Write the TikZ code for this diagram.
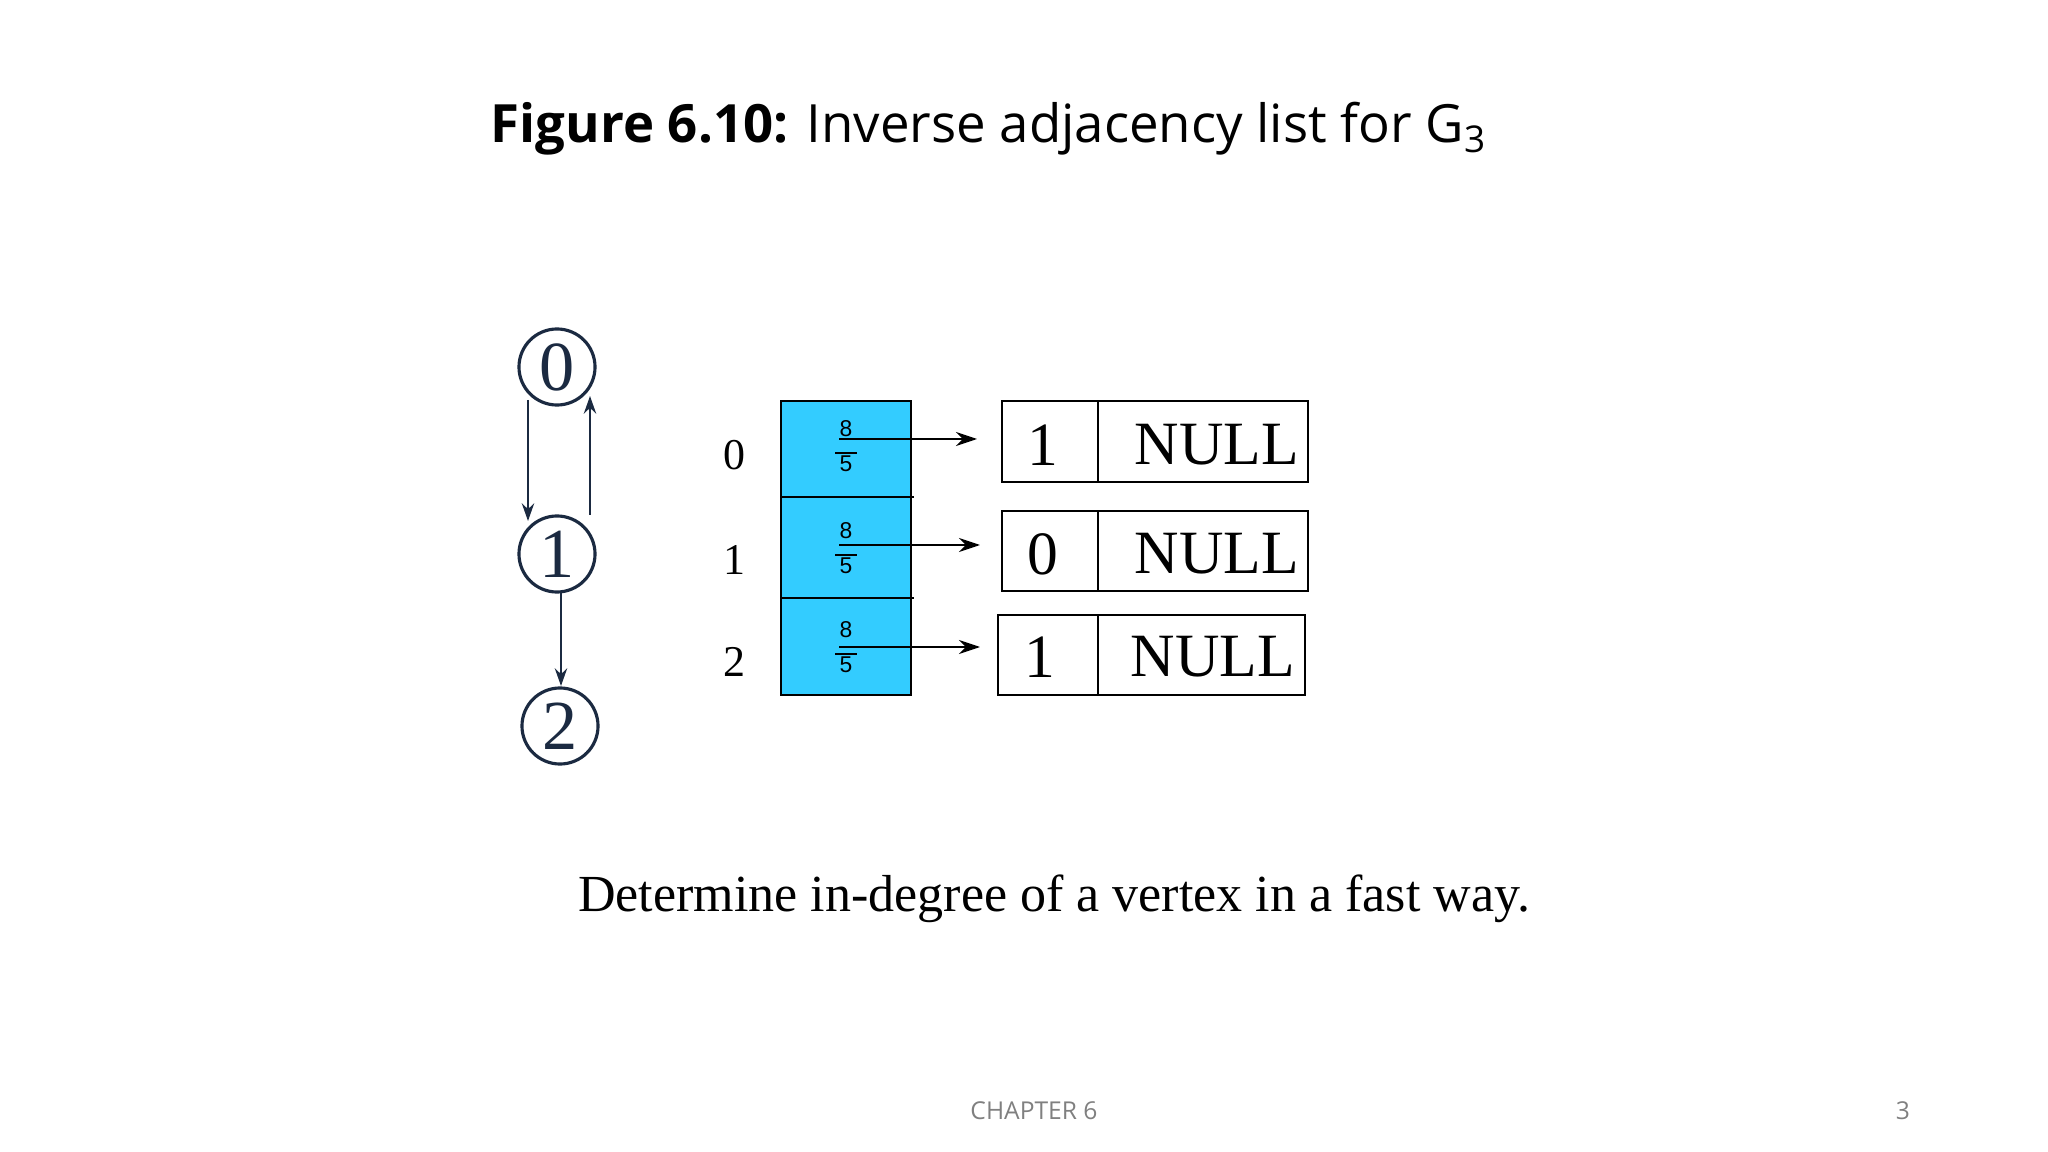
\documentclass[tikz,border=0pt]{standalone}
\usepackage{fontspec}
\setmainfont{Liberation Serif}
\newfontfamily\osans{Open Sans}
\newfontfamily\lsans{Liberation Sans}
\usetikzlibrary{arrows.meta}
\definecolor{navy}{HTML}{1B2A41}
\definecolor{cellblue}{HTML}{33CCFF}
\begin{document}
\begin{tikzpicture}[x=0.01cm,y=-0.01cm,
  vert/.style={circle,draw=navy,line width=0.9pt,minimum size=0.76cm,inner sep=0pt,font=\fontsize{20}{20}\selectfont,text=navy},
  garrow/.style={-{Stealth[length=5pt,width=3.5pt]},draw=navy,line width=0.6pt},
  parrow/.style={-{Stealth[length=6pt,width=4pt]},line width=0.6pt},
  idx/.style={font=\fontsize{12.5}{12.5}\selectfont},
  cell/.style={font=\fontsize{17.5}{17.5}\selectfont},
  frac/.style={font=\lsans\fontsize{6.5}{6.5}\selectfont,inner sep=0pt,align=center}]
\useasboundingbox (0,0) rectangle (2048,1152);
\node[anchor=base west,font=\osans\fontsize{15}{15}\selectfont,inner sep=0pt] (title) at (490,143)
  {\textbf{Figure 6.10:} Inverse adjacency list for G\textsubscript{3}};
% graph
\node[vert] (v0) at (557,367) {0};
\node[vert] (v1) at (557,554) {1};
\node[vert] (v2) at (560,726) {2};
\coordinate (a1) at (528,400); \coordinate (a2) at (528,521);
\coordinate (b1) at (590,515); \coordinate (b2) at (590,396);
\coordinate (c1) at (561,593); \coordinate (c2) at (561,686);
\draw[garrow] (a1) -- (a2);
\draw[garrow] (b1) -- (b2);
\draw[garrow] (c1) -- (c2);
% indices
\node[idx] (i0) at (734,455) {0};
\node[idx] (i1) at (734,560) {1};
\node[idx] (i2) at (734,662) {2};
% array
\fill[cellblue] (781,401) rectangle (911,695);
\draw[line width=0.7pt] (781,401) rectangle (911,695);
\draw[line width=0.7pt] (781,497) -- (914,497);
\draw[line width=0.7pt] (781,598) -- (914,598);
\foreach \y/\n in {446/f0,548/f1,647/f2}{
  \node[frac] (\n) at (846,\y) {8\\[-1.5pt]\rule{6pt}{0.5pt}\\[-1.5pt]5};
}
\coordinate (s0) at (839,439); \coordinate (t0) at (977,439);
\coordinate (s1) at (839,545); \coordinate (t1) at (980,545);
\coordinate (s2) at (839,647); \coordinate (t2) at (980,647);
\draw[parrow] (s0) -- (t0);
\draw[parrow] (s1) -- (t1);
\draw[parrow] (s2) -- (t2);
% list nodes
\draw[line width=0.7pt] (1002,401) rectangle (1308,482) (1098,401) -- (1098,482);
\draw[line width=0.7pt] (1002,511) rectangle (1308,591) (1098,511) -- (1098,591);
\draw[line width=0.7pt] (998,615) rectangle (1305,695) (1098,615) -- (1098,695);
\node[cell] (n0) at (1043,445) {1};
\node[cell] (m0) at (1217,445) {NULL};
\node[cell] (n1) at (1043,554) {0};
\node[cell] (m1) at (1217,554) {NULL};
\node[cell] (n2) at (1040,657) {1};
\node[cell] (m2) at (1213,657) {NULL};
\node[anchor=base,font=\fontsize{14.8}{14.8}\selectfont,inner sep=0pt] (note) at (1054,911)
  {Determine in-degree of a vertex in a fast way.};
\node[font=\osans\fontsize{7}{7}\selectfont,text=gray] (foot) at (1034,1111) {CHAPTER 6};
\node[font=\osans\fontsize{7}{7}\selectfont,text=gray] (pg) at (1903,1111) {3};
\end{tikzpicture}
\end{document}
